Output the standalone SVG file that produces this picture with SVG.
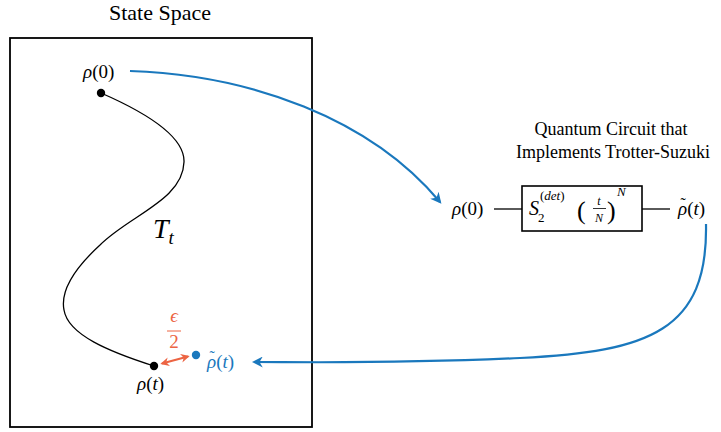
<svg xmlns="http://www.w3.org/2000/svg" width="721" height="432" viewBox="0 0 721 432">
<defs>
<marker id="ab" viewBox="0 0 10 10" refX="8" refY="5" markerWidth="5" markerHeight="5" orient="auto-start-reverse" markerUnits="strokeWidth">
<path d="M0,0 L10,5 L0,10 L3,5 Z" fill="#1a78bd"/>
</marker>
<marker id="ar" viewBox="0 0 10 10" refX="8" refY="5" markerWidth="4" markerHeight="4" orient="auto-start-reverse" markerUnits="strokeWidth">
<path d="M0,0 L10,5 L0,10 L3,5 Z" fill="#ec6443"/>
</marker>
</defs>
<rect width="721" height="432" fill="#fff"/>

<g id="state-space">
<rect x="10" y="38" width="302" height="389" fill="none" stroke="#000" stroke-width="1.8"/>
<text x="160" y="20" font-size="22" text-anchor="middle" font-family="Liberation Serif">State Space</text>
</g>

<g id="trajectory">
<path d="M101,93 C140,110 185,135 184,162 C183,200 130,215 100,245 C75,268 60,290 64,310 C68,335 110,352 154,366" fill="none" stroke="#000" stroke-width="1.3"/>
<text x="153" y="238" font-size="28" font-style="italic" font-family="Liberation Serif">T<tspan font-size="19" dy="6">t</tspan></text>
</g>

<g id="rho0">
<circle cx="101" cy="93" r="4.2" fill="#000"/>
<text x="83" y="78" font-size="19" font-style="italic" font-family="Liberation Serif">ρ<tspan font-style="normal">(0)</tspan></text>
</g>

<g id="rhot">
<circle cx="154" cy="366" r="4.2" fill="#000"/>
<text x="137" y="390" font-size="19" font-style="italic" font-family="Liberation Serif">ρ<tspan font-style="normal">(</tspan>t<tspan font-style="normal">)</tspan></text>
</g>

<g id="rhotilde">
<circle cx="196" cy="355" r="4.2" fill="#1a78bd"/>
<text x="207" y="368" font-size="19" font-style="italic" fill="#1a78bd" font-family="Liberation Serif">ρ<tspan font-style="normal">(</tspan>t<tspan font-style="normal">)</tspan></text>
<text x="209.5" y="362" font-size="16" fill="#1a78bd" font-family="Liberation Serif">˜</text>
</g>

<g id="epsilon">
<line x1="162" y1="363.5" x2="188" y2="356.5" stroke="#ec6443" stroke-width="2.2" marker-start="url(#ar)" marker-end="url(#ar)"/>
<text x="174" y="322" font-size="19" font-style="italic" text-anchor="middle" fill="#ec6443" font-family="Liberation Serif">ϵ</text>
<line x1="167" y1="331" x2="181" y2="331" stroke="#ec6443" stroke-width="1"/>
<text x="174" y="348" font-size="19" text-anchor="middle" fill="#ec6443" font-family="Liberation Serif">2</text>
</g>

<g id="circuit">
<text x="611" y="135" font-size="18" text-anchor="middle" font-family="Liberation Serif">Quantum Circuit that</text>
<text x="613" y="158" font-size="18" text-anchor="middle" font-family="Liberation Serif">Implements Trotter-Suzuki</text>
<text x="452" y="215" font-size="19" font-style="italic" font-family="Liberation Serif">ρ<tspan font-style="normal">(0)</tspan></text>
<line x1="494" y1="209" x2="522" y2="209" stroke="#000" stroke-width="1.3"/>
<rect x="522" y="186" width="120" height="45" fill="#fff" stroke="#000" stroke-width="1.6"/>
<text x="529" y="215" font-size="20" font-style="italic" font-family="Liberation Serif">S</text>
<text x="538" y="222" font-size="13" font-family="Liberation Serif">2</text>
<text x="540" y="200" font-size="13" font-style="italic" font-family="Liberation Serif"><tspan font-style="normal">(</tspan>det<tspan font-style="normal">)</tspan></text>
<text x="577" y="219" font-size="26" font-family="Liberation Serif">(</text>
<text x="599" y="205" font-size="12" font-style="italic" text-anchor="middle" font-family="Liberation Serif">t</text>
<line x1="593" y1="208.5" x2="606" y2="208.5" stroke="#000" stroke-width="0.8"/>
<text x="599" y="222" font-size="12" font-style="italic" text-anchor="middle" font-family="Liberation Serif">N</text>
<text x="607" y="219" font-size="26" font-family="Liberation Serif">)</text>
<text x="617" y="196" font-size="13" font-style="italic" font-family="Liberation Serif">N</text>
<line x1="642" y1="209" x2="670" y2="209" stroke="#000" stroke-width="1.3"/>
<text x="678" y="215" font-size="19" font-style="italic" font-family="Liberation Serif">ρ<tspan font-style="normal">(</tspan>t<tspan font-style="normal">)</tspan></text>
<text x="680.5" y="209" font-size="16" font-family="Liberation Serif">˜</text>
</g>

<g id="connectors">
<path d="M130,71 C250,75 370,118 440,202" fill="none" stroke="#1a78bd" stroke-width="2.2" marker-end="url(#ab)"/>
<path d="M706,224 C708,330 650,352 520,358 S300,362 254,362" fill="none" stroke="#1a78bd" stroke-width="2.2" marker-end="url(#ab)"/>
</g>
</svg>
